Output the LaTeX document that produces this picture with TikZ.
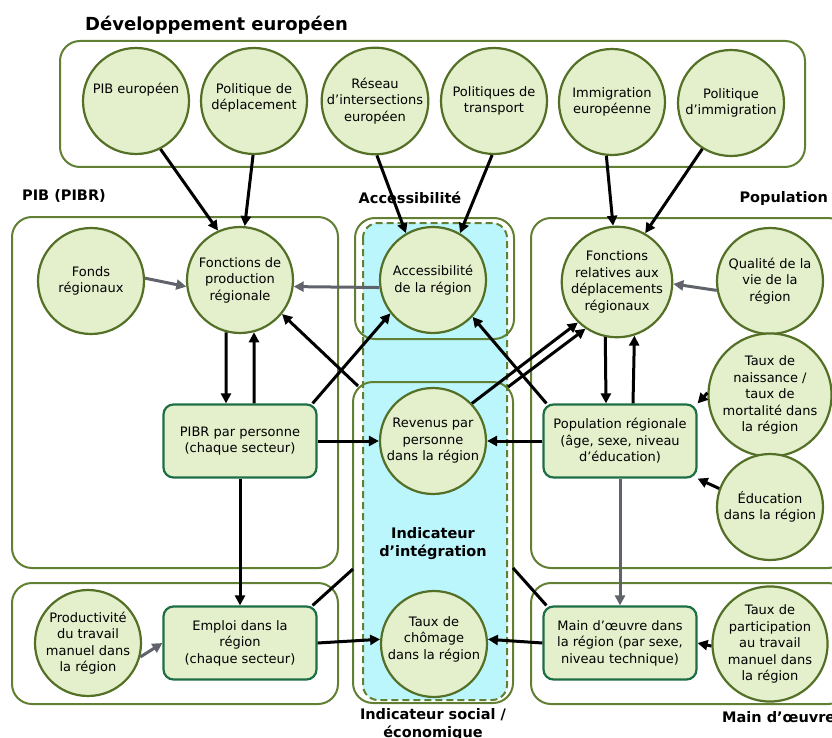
\documentclass[tikz,border=0pt]{standalone}
\usepackage{fontspec}
\setmainfont{DejaVu Sans}
\usetikzlibrary{arrows.meta}
\definecolor{circfill}{RGB}{228,239,204}
\definecolor{circdraw}{RGB}{84,112,38}
\definecolor{rectdraw}{RGB}{30,110,70}
\definecolor{boxdraw}{RGB}{98,128,52}
\definecolor{cyanfill}{RGB}{187,246,253}
\definecolor{arrgray}{RGB}{96,100,106}
\begin{document}
\begin{tikzpicture}[x=1pt,y=-1pt,
  circ/.style={circle, draw=circdraw, fill=circfill, line width=2.2pt, minimum size=106pt, inner sep=0pt, align=center, font=\fontsize{13}{16.5}\selectfont},
  rbox/.style={rectangle, rounded corners=10pt, draw=rectdraw, fill=circfill, line width=2.2pt, minimum width=153pt, minimum height=73pt, inner sep=0pt, align=center, font=\fontsize{13}{16.5}\selectfont},
  grp/.style={draw=boxdraw, line width=2pt, rounded corners=20pt},
  ttl/.style={font=\fontsize{14.5}{18}\selectfont\bfseries, align=center, inner sep=0pt},
  blk/.style={line width=3pt, black, -{Triangle[length=10pt,width=10pt]}},
  gry/.style={line width=3pt, arrgray, -{Triangle[length=10pt,width=10pt]}},
  lnk/.style={line width=3pt, black},
]
\useasboundingbox (0,0) rectangle (832,738);
\fill[white] (0,0) rectangle (832,738);

% group boxes
\draw[grp] (60,41) rectangle (805,167);
\draw[grp] (12,217) rectangle (338,568);
\draw[grp] (12,583) rectangle (338,704);
\fill[cyanfill, rounded corners=15pt] (363,223) rectangle (507,700);
\draw[draw=boxdraw, line width=2pt, rounded corners=15pt, dash pattern=on 7pt off 4pt] (363,223) rectangle (507,700);
\draw[grp] (355,218) rectangle (514,339);
\draw[grp] (353,382) rectangle (513,703);
\draw[grp] (531,218) rectangle (848,568);
\draw[grp] (531,583) rectangle (848,704);

% titles
\node[font=\fontsize{18}{22}\selectfont\bfseries, anchor=west, inner sep=0pt] (ttl0) at (85,25) {Développement européen};
\node[ttl, anchor=west] (tpib) at (22,196) {PIB (PIBR)};
\node[ttl] (tacc) at (410,198) {Accessibilité};
\node[ttl, anchor=east] (tpop) at (828,198) {Population};
\node[ttl] (tint) at (433,544) {Indicateur\\d’intégration};
\node[ttl, anchor=north] (tsoc) at (433,708) {Indicateur social /\\économique};
\node[ttl, anchor=west] (tmain) at (722,717) {Main d’œuvre};

% nodes
\node[circ] (pibeu) at (136,101) {\raisebox{11pt}[\height][\depth]{PIB européen}};
\node[circ] (politdep) at (254,101) {\raisebox{3pt}[\height][\depth]{Politique de}\\\raisebox{3pt}[\height][\depth]{déplacement}};
\node[circ] (reseau) at (375,101) {Réseau\\d’intersections\\européen};
\node[circ] (transp) at (494,101) {Politiques de\\transport};
\node[circ] (immeu) at (612,102) {Immigration\\européenne};
\node[circ] (politimm) at (731,103) {Politique\\d’immigration};

\node[circ] (fonds) at (91,281) {Fonds\\régionaux};
\node[circ] (fprod) at (240,280) {Fonctions de\\production\\régionale};
\node[circ] (access) at (433,280) {Accessibilité\\de la région};
\node[circ] (frel) at (617,282) {Fonctions\\relatives aux\\déplacements\\régionaux};
\node[circ] (qualite) at (770,281) {Qualité de la\\vie de la\\région};
\node[circ] (naiss) at (770,395) {Taux de\\naissance /\\taux de\\mortalité dans\\la région};
\node[circ] (educ) at (770,507) {Éducation\\dans la région};

\node[rbox] (pibr) at (240,441) {PIBR par personne\\(chaque secteur)};
\node[circ] (rev) at (433,441) {Revenus par\\personne\\dans la région};
\node[rbox] (popreg) at (620,441) {Population régionale\\(âge, sexe, niveau\\d’éducation)};

\node[circ] (prod) at (88,643) {Productivité\\du travail\\manuel dans\\la région};
\node[rbox] (emploi) at (240,643) {Emploi dans la\\région\\(chaque secteur)};
\node[circ] (chom) at (434,644) {\raisebox{5pt}[\height][\depth]{Taux de}\\\raisebox{5pt}[\height][\depth]{chômage}\\\raisebox{5pt}[\height][\depth]{dans la région}};
\node[rbox] (maino) at (620,643) {Main d’œuvre dans\\la région (par sexe,\\niveau technique)};
\node[circ] (partic) at (770,644) {Taux de\\participation\\au travail\\manuel dans\\la région};

% free ends on the group boxes
\coordinate (socTL) at (358,386);
\coordinate (socTR) at (508,387);
\coordinate (socL) at (353,569);
\coordinate (socR) at (513,568);

% connectors
\draw[blk] (pibeu.-63) -- (fprod.114);
\draw[blk] (politdep.-91) -- (fprod.85);
\draw[blk] (reseau.-88) -- (access.120);
\draw[blk] (transp.-92) -- (access.60);
\draw[blk] (immeu.-96) -- (frel.94);
\draw[blk] (politimm.-122) -- (frel.60);
\draw[gry] (fonds.3) -- (fprod.-173);
\draw[gry] (access.188) -- (fprod.-7);
\draw[gry] (qualite.190) -- (frel.-2);
\draw[blk] (fprod.-105) -- ([xshift=-14pt]pibr.north);
\draw[blk] ([xshift=14pt]pibr.north) -- (fprod.-75);
\draw[blk] ([xshift=-5pt]pibr.north east) -- (access.-142);
\draw[blk] (socTL) -- (fprod.-39);
\draw[blk] (pibr.east) -- (rev.west);
\draw[blk] (popreg.west) -- (rev.east);
\draw[blk] (frel.-102) -- ([xshift=-14pt]popreg.north);
\draw[blk] ([xshift=13pt]popreg.north) -- (frel.-72);
\draw[blk] ([xshift=4pt]popreg.north west) -- (access.-43);
\draw[blk] (rev.44) -- (frel.-134);
\draw[blk] (socTR) -- (frel.-124);
\draw[blk] (naiss.178) -- (popreg.north east);
\draw[blk] (educ.160) -- (popreg.south east);
\draw[blk] (pibr.south) -- (emploi.north);
\draw[gry] (popreg.south) -- (maino.north);
\draw[gry] (prod.-15) -- (emploi.west);
\draw[blk] (emploi.east) -- (chom.175);
\draw[blk] (maino.west) -- (chom.5);
\draw[blk] (partic.182) -- (maino.east);
\draw[lnk] ([xshift=-5pt]emploi.north east) -- (socL);
\draw[lnk] (socR) -- ([xshift=4pt]maino.north west);
\end{tikzpicture}
\end{document}
